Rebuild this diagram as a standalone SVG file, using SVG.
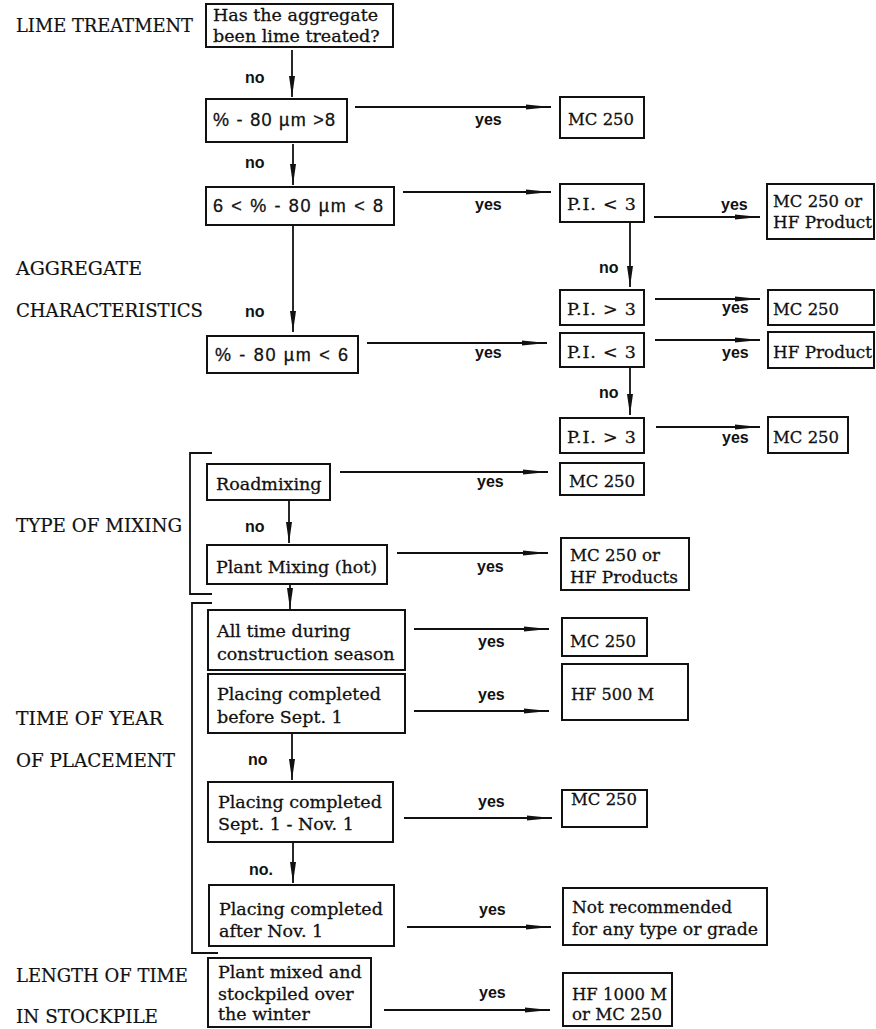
<svg xmlns="http://www.w3.org/2000/svg" width="876" height="1029" viewBox="0 0 876 1029">
<style>
.bx{fill:#fff;stroke:#111;stroke-width:2}
.t{font-family:"DejaVu Serif","Liberation Serif",serif;font-size:17.5px;fill:#111;stroke:#111;stroke-width:0.3}
.s{font-family:"Liberation Sans","DejaVu Sans",sans-serif;font-size:18px;fill:#111;stroke:#111;stroke-width:0.3}
.c{font-family:"DejaVu Serif","Liberation Serif",serif;font-size:18px;fill:#111;stroke:#111;stroke-width:0.2}
.yn{font-family:"Liberation Sans","DejaVu Sans",sans-serif;font-size:16px;font-weight:bold;fill:#111}
.ln{fill:none;stroke:#111;stroke-width:1.8}
.ha{marker-end:url(#ah)}
.va{marker-end:url(#av)}
</style>
<defs>
<marker id="ah" markerUnits="userSpaceOnUse" markerWidth="26" markerHeight="8" refX="25" refY="4" orient="auto" viewBox="0 0 26 8">
<path d="M0,1.5 L25,4 L0,6.5 Z" fill="#111"/>
</marker>
<marker id="av" markerUnits="userSpaceOnUse" markerWidth="22" markerHeight="8" refX="21" refY="4" orient="auto" viewBox="0 0 22 8">
<path d="M0,1 L21,4 L0,7 Z" fill="#111"/>
</marker>
</defs>

<g id="labels">
<text class="c" x="16" y="32" textLength="177" lengthAdjust="spacingAndGlyphs">LIME TREATMENT</text>
<text class="c" x="16" y="275" textLength="126" lengthAdjust="spacingAndGlyphs">AGGREGATE</text>
<text class="c" x="16" y="317" textLength="187" lengthAdjust="spacingAndGlyphs">CHARACTERISTICS</text>
<text class="c" x="16" y="532" textLength="166" lengthAdjust="spacingAndGlyphs">TYPE OF MIXING</text>
<text class="c" x="16" y="725" textLength="147" lengthAdjust="spacingAndGlyphs">TIME OF YEAR</text>
<text class="c" x="16" y="767" textLength="159" lengthAdjust="spacingAndGlyphs">OF PLACEMENT</text>
<text class="c" x="16" y="982" textLength="172" lengthAdjust="spacingAndGlyphs">LENGTH OF TIME</text>
<text class="c" x="16" y="1023" textLength="142" lengthAdjust="spacingAndGlyphs">IN STOCKPILE</text>
</g>

<g id="brackets">
<path class="ln" d="M212,453 H190 V594 H212"/>
<path class="ln" d="M212,603 H192 V953 H218"/>
</g>

<g id="connectors">
<path class="ln va" d="M292,50 V97"/>
<path class="ln ha" d="M355,107 H551"/>
<path class="ln va" d="M293,144 V185"/>
<path class="ln ha" d="M403,192 H551"/>
<path class="ln va" d="M630,222 V287"/>
<path class="ln ha" d="M654,217 H760"/>
<path class="ln va" d="M293,225 V332"/>
<path class="ln ha" d="M655,299 H760"/>
<path class="ln ha" d="M367,343 H547"/>
<path class="ln ha" d="M655,340 H760"/>
<path class="ln va" d="M630,368 V415"/>
<path class="ln ha" d="M656,427 H760"/>
<path class="ln ha" d="M340,472 H548"/>
<path class="ln va" d="M289,500 V543"/>
<path class="ln ha" d="M397,553 H548"/>
<path class="ln va" d="M290,584 V609"/>
<path class="ln ha" d="M414,629 H549"/>
<path class="ln ha" d="M414,711 H549"/>
<path class="ln va" d="M292,733 V780"/>
<path class="ln ha" d="M404,818 H552"/>
<path class="ln va" d="M293,842 V883"/>
<path class="ln ha" d="M407,927 H551"/>
<path class="ln ha" d="M384,1010 H550"/>
</g>

<g id="edge-labels">
<text class="yn" x="245" y="83">no</text>
<text class="yn" x="245" y="168">no</text>
<text class="yn" x="245" y="317">no</text>
<text class="yn" x="599" y="273">no</text>
<text class="yn" x="599" y="398">no</text>
<text class="yn" x="245" y="532">no</text>
<text class="yn" x="248" y="765">no</text>
<text class="yn" x="249" y="875">no.</text>
<text class="yn" x="475" y="125">yes</text>
<text class="yn" x="475" y="210">yes</text>
<text class="yn" x="721" y="210">yes</text>
<text class="yn" x="722" y="313">yes</text>
<text class="yn" x="475" y="358">yes</text>
<text class="yn" x="722" y="358">yes</text>
<text class="yn" x="722" y="443">yes</text>
<text class="yn" x="477" y="487">yes</text>
<text class="yn" x="477" y="572">yes</text>
<text class="yn" x="478" y="647">yes</text>
<text class="yn" x="478" y="700">yes</text>
<text class="yn" x="478" y="807">yes</text>
<text class="yn" x="479" y="915">yes</text>
<text class="yn" x="479" y="998">yes</text>
</g>

<g id="n-lime"><rect class="bx" x="206" y="4" width="187" height="43"/>
<text class="t" x="213" y="21">Has the aggregate</text><text class="t" x="213" y="42">been lime treated?</text></g>
<g id="n-gt8"><rect class="bx" x="206" y="99" width="141" height="43"/>
<text class="s" x="213" y="126" textLength="122" lengthAdjust="spacing">% - 80 µm &gt;8</text></g>
<g id="n-6to8"><rect class="bx" x="206" y="187" width="188" height="38"/>
<text class="s" x="213" y="212" textLength="170" lengthAdjust="spacing">6 &lt; % - 80 µm &lt; 8</text></g>
<g id="n-lt6"><rect class="bx" x="207" y="336" width="151" height="37"/>
<text class="s" x="215" y="361" textLength="133" lengthAdjust="spacing">% - 80 µm &lt; 6</text></g>

<g id="r-mc250-a"><rect class="bx" x="560" y="97" width="84" height="41"/>
<text class="t" x="568" y="125" textLength="66" lengthAdjust="spacingAndGlyphs">MC 250</text></g>
<g id="n-pi-lt3-a"><rect class="bx" x="560" y="184" width="84" height="38"/>
<text class="t" x="567" y="210" textLength="69" lengthAdjust="spacing">P.I. &lt; 3</text></g>
<g id="r-mc250-hf-a"><rect class="bx" x="767" y="184" width="107" height="55"/>
<text class="t" x="773" y="207" textLength="89" lengthAdjust="spacingAndGlyphs">MC 250 or</text><text class="t" x="773" y="228" textLength="99" lengthAdjust="spacingAndGlyphs">HF Product</text></g>
<g id="n-pi-gt3-a"><rect class="bx" x="560" y="290" width="84" height="35"/>
<text class="t" x="567" y="315" textLength="69" lengthAdjust="spacing">P.I. &gt; 3</text></g>
<g id="r-mc250-b"><rect class="bx" x="768" y="290" width="106" height="35"/>
<text class="t" x="773" y="315" textLength="66" lengthAdjust="spacingAndGlyphs">MC 250</text></g>
<g id="n-pi-lt3-b"><rect class="bx" x="560" y="333" width="84" height="34"/>
<text class="t" x="567" y="358" textLength="69" lengthAdjust="spacing">P.I. &lt; 3</text></g>
<g id="r-hf-b"><rect class="bx" x="768" y="332" width="106" height="36"/>
<text class="t" x="773" y="358" textLength="99" lengthAdjust="spacingAndGlyphs">HF Product</text></g>
<g id="n-pi-gt3-b"><rect class="bx" x="560" y="418" width="84" height="35"/>
<text class="t" x="567" y="443" textLength="69" lengthAdjust="spacing">P.I. &gt; 3</text></g>
<g id="r-mc250-c"><rect class="bx" x="768" y="417" width="80" height="36"/>
<text class="t" x="773" y="443" textLength="66" lengthAdjust="spacingAndGlyphs">MC 250</text></g>

<g id="n-road"><rect class="bx" x="207" y="464" width="123" height="36"/>
<text class="t" x="216" y="490">Roadmixing</text></g>
<g id="r-mc250-d"><rect class="bx" x="560" y="463" width="84" height="32"/>
<text class="t" x="569" y="487" textLength="66" lengthAdjust="spacingAndGlyphs">MC 250</text></g>
<g id="n-plant"><rect class="bx" x="207" y="545" width="180" height="39"/>
<text class="t" x="216" y="573">Plant Mixing (hot)</text></g>
<g id="r-mc250-hf-e"><rect class="bx" x="561" y="538" width="128" height="52"/>
<text class="t" x="570" y="561" textLength="90" lengthAdjust="spacingAndGlyphs">MC 250 or</text><text class="t" x="570" y="583" textLength="108" lengthAdjust="spacingAndGlyphs">HF Products</text></g>

<g id="n-alltime"><rect class="bx" x="208" y="610" width="197" height="60"/>
<text class="t" x="217" y="637">All time during</text><text class="t" x="217" y="660">construction season</text></g>
<g id="r-mc250-f"><rect class="bx" x="562" y="618" width="85" height="38"/>
<text class="t" x="570" y="647" textLength="66" lengthAdjust="spacingAndGlyphs">MC 250</text></g>
<g id="n-before"><rect class="bx" x="208" y="674" width="197" height="59"/>
<text class="t" x="217" y="700">Placing completed</text><text class="t" x="217" y="723">before Sept. 1</text></g>
<g id="r-hf500"><rect class="bx" x="562" y="664" width="126" height="56"/>
<text class="t" x="571" y="700" textLength="83" lengthAdjust="spacingAndGlyphs">HF 500 M</text></g>
<g id="n-sept"><rect class="bx" x="208" y="782" width="185" height="60"/>
<text class="t" x="218" y="808">Placing completed</text><text class="t" x="218" y="830">Sept. 1 - Nov. 1</text></g>
<g id="r-mc250-g"><rect class="bx" x="562" y="790" width="85" height="37"/>
<text class="t" x="571" y="805" textLength="66" lengthAdjust="spacingAndGlyphs">MC 250</text></g>
<g id="n-after"><rect class="bx" x="209" y="885" width="185" height="61"/>
<text class="t" x="219" y="915">Placing completed</text><text class="t" x="219" y="937">after Nov. 1</text></g>
<g id="r-notrec"><rect class="bx" x="563" y="888" width="204" height="57"/>
<text class="t" x="572" y="913" textLength="160" lengthAdjust="spacingAndGlyphs">Not recommended</text><text class="t" x="572" y="935" textLength="186" lengthAdjust="spacingAndGlyphs">for any type or grade</text></g>

<g id="n-stockpile"><rect class="bx" x="208" y="958" width="163" height="69"/>
<text class="t" x="218" y="978">Plant mixed and</text><text class="t" x="218" y="1000">stockpiled over</text><text class="t" x="218" y="1020">the winter</text></g>
<g id="r-hf1000"><rect class="bx" x="563" y="973" width="109" height="53"/>
<text class="t" x="572" y="1000" textLength="95" lengthAdjust="spacingAndGlyphs">HF 1000 M</text><text class="t" x="572" y="1020" textLength="90" lengthAdjust="spacingAndGlyphs">or MC 250</text></g>
</svg>
